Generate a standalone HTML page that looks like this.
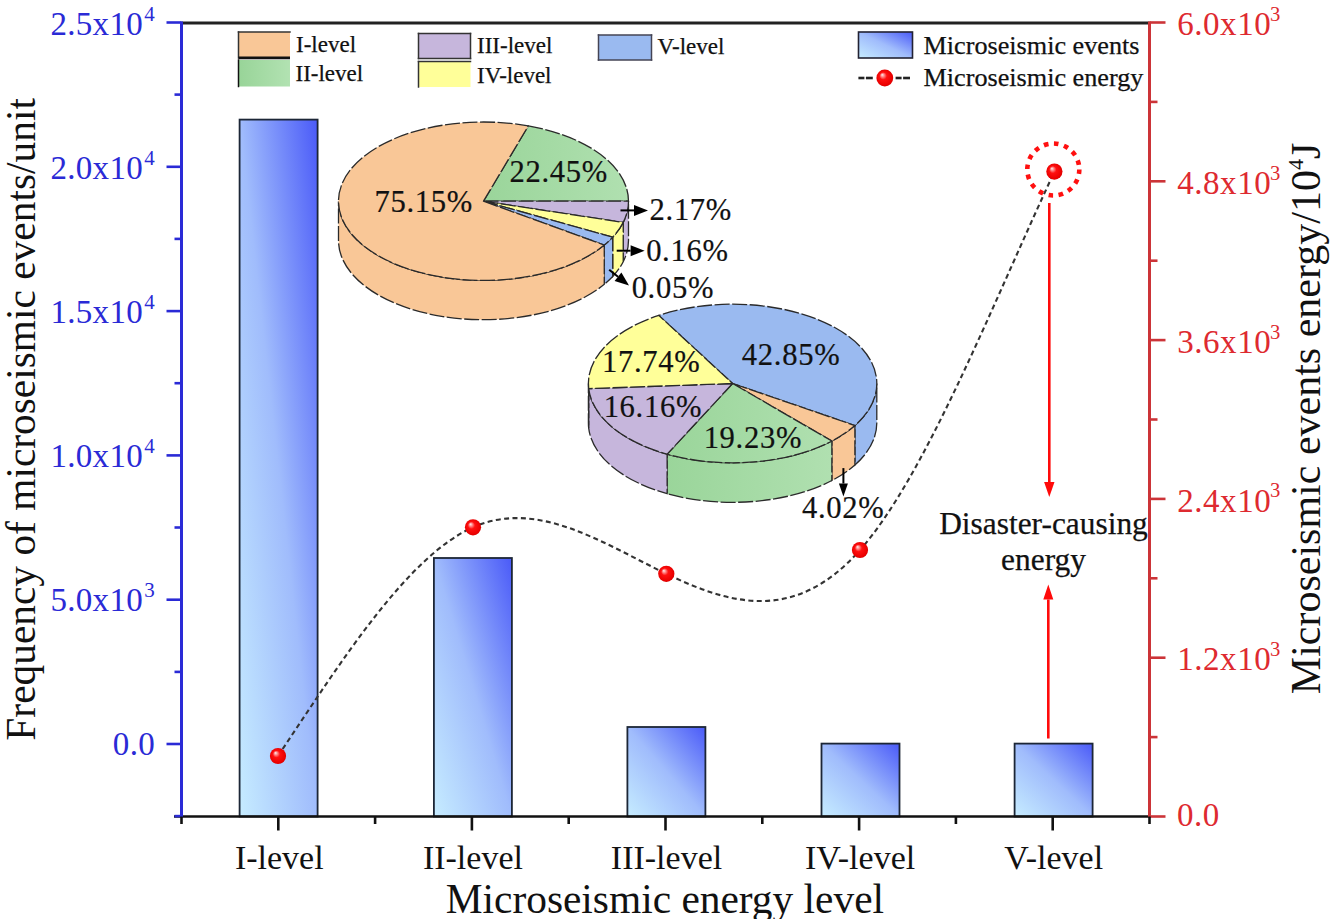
<!DOCTYPE html>
<html><head><meta charset="utf-8"><style>
html,body{margin:0;padding:0;background:#fff;}
svg{display:block;}
text{font-family:"Liberation Serif",serif;}
</style></head><body>
<svg width="1334" height="919" viewBox="0 0 1334 919">
<defs>
<linearGradient id="bar" x1="0" y1="1" x2="1" y2="0">
<stop offset="0" stop-color="#c6ecff"/><stop offset="0.5" stop-color="#a0bcfc"/><stop offset="1" stop-color="#4a5af8"/>
</linearGradient>
<radialGradient id="ball" cx="0.5" cy="0.5" r="0.55" fx="0.34" fy="0.3">
<stop offset="0" stop-color="#fff0f0"/><stop offset="0.18" stop-color="#ff8a8a"/><stop offset="0.4" stop-color="#ff1010"/><stop offset="0.85" stop-color="#ea0000"/><stop offset="1" stop-color="#c80000"/>
</radialGradient>
<linearGradient id="pgreen" x1="0" y1="0" x2="1" y2="0">
<stop offset="0" stop-color="#9ad59a"/><stop offset="1" stop-color="#b0e0b0"/>
</linearGradient>
<linearGradient id="lgreen" x1="0" y1="0" x2="1" y2="0">
<stop offset="0" stop-color="#98d498"/><stop offset="1" stop-color="#b2e2b2"/>
</linearGradient>
</defs>
<rect width="1334" height="919" fill="#fff"/>

<rect x="239.6" y="119.6" width="78" height="696.9" fill="url(#bar)" stroke="#1c2636" stroke-width="1.8"/>
<rect x="433.9" y="558.0" width="78" height="258.5" fill="url(#bar)" stroke="#1c2636" stroke-width="1.8"/>
<rect x="627.4" y="727.0" width="78" height="89.5" fill="url(#bar)" stroke="#1c2636" stroke-width="1.8"/>
<rect x="821.5" y="743.6" width="78" height="72.9" fill="url(#bar)" stroke="#1c2636" stroke-width="1.8"/>
<rect x="1014.6" y="743.6" width="78" height="72.9" fill="url(#bar)" stroke="#1c2636" stroke-width="1.8"/>
<path d="M628.50,201.20 A145,79.2 0 0 1 623.23,222.37 L623.23,261.67 A145,79.2 0 0 0 628.50,240.50 Z" fill="#c6b6dc" stroke="#2a2a2a" stroke-width="1.3" stroke-dasharray="15 2.5"/>
<path d="M623.23,222.37 A145,79.2 0 0 1 612.70,237.16 L612.70,276.46 A145,79.2 0 0 0 623.23,261.67 Z" fill="#ffff99" stroke="#2a2a2a" stroke-width="1.3" stroke-dasharray="15 2.5"/>
<path d="M612.70,237.16 A145,79.2 0 0 1 604.27,245.03 L604.27,284.33 A145,79.2 0 0 0 612.70,276.46 Z" fill="#9abaf0" stroke="#2a2a2a" stroke-width="1.3" stroke-dasharray="15 2.5"/>
<path d="M604.27,245.03 A145,79.2 0 0 1 338.50,201.20 L338.50,240.50 A145,79.2 0 0 0 604.27,284.33 Z" fill="#f9c797" stroke="#2a2a2a" stroke-width="1.3" stroke-dasharray="15 2.5"/>
<path d="M483.5,201.2 L528.31,125.88 A145,79.2 0 0 1 628.50,201.20 Z" fill="url(#pgreen)" stroke="#2a2a2a" stroke-width="1.3" stroke-linejoin="round" stroke-dasharray="15 2.5"/>
<path d="M483.5,201.2 L628.50,201.20 A145,79.2 0 0 1 623.23,222.37 Z" fill="#c6b6dc" stroke="#2a2a2a" stroke-width="1.3" stroke-linejoin="round" stroke-dasharray="15 2.5"/>
<path d="M483.5,201.2 L623.23,222.37 A145,79.2 0 0 1 612.70,237.16 Z" fill="#ffff99" stroke="#2a2a2a" stroke-width="1.3" stroke-linejoin="round" stroke-dasharray="15 2.5"/>
<path d="M483.5,201.2 L612.70,237.16 A145,79.2 0 0 1 604.27,245.03 Z" fill="#9abaf0" stroke="#2a2a2a" stroke-width="1.3" stroke-linejoin="round" stroke-dasharray="15 2.5"/>
<path d="M483.5,201.2 L604.27,245.03 A145,79.2 0 1 1 528.31,125.88 Z" fill="#f9c797" stroke="#2a2a2a" stroke-width="1.3" stroke-linejoin="round" stroke-dasharray="15 2.5"/>
<path d="M876.80,383.50 A144.2,79.3 0 0 1 854.89,425.52 L854.89,465.02 A144.2,79.3 0 0 0 876.80,423.00 Z" fill="#9abaf0" stroke="#2a2a2a" stroke-width="1.3" stroke-dasharray="15 2.5"/>
<path d="M854.89,425.52 A144.2,79.3 0 0 1 831.86,441.02 L831.86,480.52 A144.2,79.3 0 0 0 854.89,465.02 Z" fill="#f9c797" stroke="#2a2a2a" stroke-width="1.3" stroke-dasharray="15 2.5"/>
<path d="M831.86,441.02 A144.2,79.3 0 0 1 667.13,454.16 L667.13,493.66 A144.2,79.3 0 0 0 831.86,480.52 Z" fill="url(#pgreen)" stroke="#2a2a2a" stroke-width="1.3" stroke-dasharray="15 2.5"/>
<path d="M667.13,454.16 A144.2,79.3 0 0 1 588.70,388.62 L588.70,428.12 A144.2,79.3 0 0 0 667.13,493.66 Z" fill="#c6b6dc" stroke="#2a2a2a" stroke-width="1.3" stroke-dasharray="15 2.5"/>
<path d="M588.70,388.62 A144.2,79.3 0 0 1 588.40,383.50 L588.40,423.00 A144.2,79.3 0 0 0 588.70,428.12 Z" fill="#ffff99" stroke="#2a2a2a" stroke-width="1.3" stroke-dasharray="15 2.5"/>
<path d="M732.6,383.5 L658.76,315.38 A144.2,79.3 0 0 1 854.89,425.52 Z" fill="#9abaf0" stroke="#2a2a2a" stroke-width="1.3" stroke-linejoin="round" stroke-dasharray="15 2.5"/>
<path d="M732.6,383.5 L854.89,425.52 A144.2,79.3 0 0 1 831.86,441.02 Z" fill="#f9c797" stroke="#2a2a2a" stroke-width="1.3" stroke-linejoin="round" stroke-dasharray="15 2.5"/>
<path d="M732.6,383.5 L831.86,441.02 A144.2,79.3 0 0 1 667.13,454.16 Z" fill="url(#pgreen)" stroke="#2a2a2a" stroke-width="1.3" stroke-linejoin="round" stroke-dasharray="15 2.5"/>
<path d="M732.6,383.5 L667.13,454.16 A144.2,79.3 0 0 1 588.70,388.62 Z" fill="#c6b6dc" stroke="#2a2a2a" stroke-width="1.3" stroke-linejoin="round" stroke-dasharray="15 2.5"/>
<path d="M732.6,383.5 L588.70,388.62 A144.2,79.3 0 0 1 658.76,315.38 Z" fill="#ffff99" stroke="#2a2a2a" stroke-width="1.3" stroke-linejoin="round" stroke-dasharray="15 2.5"/>
<text x="423.8" y="211.8" font-size="30.6" fill="#111" text-anchor="middle" letter-spacing="0.7" stroke="#111" stroke-width="0.2">75.15%</text>
<text x="558.8" y="181.9" font-size="30.6" fill="#111" text-anchor="middle" letter-spacing="0.7" stroke="#111" stroke-width="0.2">22.45%</text>
<text x="690.8" y="220.3" font-size="30.6" fill="#111" text-anchor="middle" letter-spacing="0.7" stroke="#111" stroke-width="0.2">2.17%</text>
<text x="687.4" y="260.6" font-size="30.6" fill="#111" text-anchor="middle" letter-spacing="0.7" stroke="#111" stroke-width="0.2">0.16%</text>
<text x="672.9" y="298.1" font-size="30.6" fill="#111" text-anchor="middle" letter-spacing="0.7" stroke="#111" stroke-width="0.2">0.05%</text>
<text x="791.1" y="365.2" font-size="30.6" fill="#111" text-anchor="middle" letter-spacing="0.7" stroke="#111" stroke-width="0.2">42.85%</text>
<text x="651.2" y="372.2" font-size="30.6" fill="#111" text-anchor="middle" letter-spacing="0.7" stroke="#111" stroke-width="0.2">17.74%</text>
<text x="652.9" y="416.6" font-size="30.6" fill="#111" text-anchor="middle" letter-spacing="0.7" stroke="#111" stroke-width="0.2">16.16%</text>
<text x="752.9" y="448" font-size="30.6" fill="#111" text-anchor="middle" letter-spacing="0.7" stroke="#111" stroke-width="0.2">19.23%</text>
<text x="843.2" y="518.1" font-size="30.6" fill="#111" text-anchor="middle" letter-spacing="0.7" stroke="#111" stroke-width="0.2">4.02%</text>
<line x1="620.5" y1="210.4" x2="634.0" y2="210.4" stroke="#000" stroke-width="2"/>
<path d="M648,210.4 L634.0,215.9 L634.0,204.9 Z" fill="#000"/>
<line x1="616.7" y1="250.7" x2="630.6" y2="250.7" stroke="#000" stroke-width="2"/>
<path d="M644.6,250.7 L630.6,256.2 L630.6,245.2 Z" fill="#000"/>
<line x1="609.2" y1="269.8" x2="618.0" y2="276.7" stroke="#000" stroke-width="2"/>
<path d="M629,285.4 L614.6,281.1 L621.4,272.4 Z" fill="#000"/>
<line x1="843.4" y1="468.1" x2="843.4" y2="483.5" stroke="#000" stroke-width="2"/>
<path d="M843.4,496.5 L838.9,483.5 L847.9,483.5 Z" fill="#000"/>
<path d="M278.0,756.0 C343.0,658.5 408.0,556.1 473.0,527.3 C537.4,498.8 601.9,542.7 666.3,573.8 C730.9,604.9 795.4,623.2 860.0,550.0 C924.8,476.5 989.6,310.9 1054.4,171.6" fill="none" stroke="#333" stroke-width="2.1" stroke-dasharray="5 3.4"/>
<circle cx="278.0" cy="756.0" r="8.1" fill="url(#ball)"/>
<circle cx="473.0" cy="527.3" r="8.1" fill="url(#ball)"/>
<circle cx="666.3" cy="573.8" r="8.1" fill="url(#ball)"/>
<circle cx="860.0" cy="550.0" r="8.1" fill="url(#ball)"/>
<circle cx="1054.4" cy="171.6" r="8.1" fill="url(#ball)"/>
<circle cx="1053.3" cy="169.5" r="26" fill="none" stroke="#ff1010" stroke-width="4.6" stroke-dasharray="4.6 5.6"/>
<line x1="1049.3" y1="203" x2="1049.3" y2="482.0" stroke="#ff0a0a" stroke-width="2.6"/>
<path d="M1049.3,497 L1044.1,482.0 L1054.5,482.0 Z" fill="#ff0a0a"/>
<line x1="1048.3" y1="738.5" x2="1048.3" y2="599.5" stroke="#ff0a0a" stroke-width="2.6"/>
<path d="M1048.3,584.5 L1053.3,599.5 L1043.3,599.5 Z" fill="#ff0a0a"/>
<text x="1043.5" y="533.8" font-size="31.4" fill="#111" text-anchor="middle" stroke="#111" stroke-width="0.25">Disaster-causing</text>
<text x="1043.5" y="570.1" font-size="31.4" fill="#111" text-anchor="middle" stroke="#111" stroke-width="0.25">energy</text>
<line x1="181.5" y1="23" x2="1149.5" y2="23" stroke="#222" stroke-width="2.8"/>
<line x1="174" y1="816.5" x2="1151.0" y2="816.5" stroke="#111" stroke-width="2.6"/>
<line x1="181.5" y1="21.6" x2="181.5" y2="817.5" stroke="#2a2ad6" stroke-width="3"/>
<line x1="1149.5" y1="21.6" x2="1149.5" y2="817.5" stroke="#cc3438" stroke-width="3"/>
<line x1="174.5" y1="816.1" x2="181.5" y2="816.1" stroke="#2a2ad6" stroke-width="2.6"/>
<line x1="166.5" y1="744.0" x2="181.5" y2="744.0" stroke="#2a2ad6" stroke-width="2.6"/>
<line x1="174.5" y1="671.9" x2="181.5" y2="671.9" stroke="#2a2ad6" stroke-width="2.6"/>
<line x1="166.5" y1="599.7" x2="181.5" y2="599.7" stroke="#2a2ad6" stroke-width="2.6"/>
<line x1="174.5" y1="527.5" x2="181.5" y2="527.5" stroke="#2a2ad6" stroke-width="2.6"/>
<line x1="166.5" y1="455.4" x2="181.5" y2="455.4" stroke="#2a2ad6" stroke-width="2.6"/>
<line x1="174.5" y1="383.2" x2="181.5" y2="383.2" stroke="#2a2ad6" stroke-width="2.6"/>
<line x1="166.5" y1="311.1" x2="181.5" y2="311.1" stroke="#2a2ad6" stroke-width="2.6"/>
<line x1="174.5" y1="238.9" x2="181.5" y2="238.9" stroke="#2a2ad6" stroke-width="2.6"/>
<line x1="166.5" y1="166.8" x2="181.5" y2="166.8" stroke="#2a2ad6" stroke-width="2.6"/>
<line x1="174.5" y1="94.6" x2="181.5" y2="94.6" stroke="#2a2ad6" stroke-width="2.6"/>
<line x1="166.5" y1="22.5" x2="181.5" y2="22.5" stroke="#2a2ad6" stroke-width="2.6"/>
<line x1="1149.5" y1="816.5" x2="1165.5" y2="816.5" stroke="#cc3438" stroke-width="2.6"/>
<line x1="1149.5" y1="737.1" x2="1157.5" y2="737.1" stroke="#cc3438" stroke-width="2.6"/>
<line x1="1149.5" y1="657.7" x2="1165.5" y2="657.7" stroke="#cc3438" stroke-width="2.6"/>
<line x1="1149.5" y1="578.3" x2="1157.5" y2="578.3" stroke="#cc3438" stroke-width="2.6"/>
<line x1="1149.5" y1="498.9" x2="1165.5" y2="498.9" stroke="#cc3438" stroke-width="2.6"/>
<line x1="1149.5" y1="419.5" x2="1157.5" y2="419.5" stroke="#cc3438" stroke-width="2.6"/>
<line x1="1149.5" y1="340.1" x2="1165.5" y2="340.1" stroke="#cc3438" stroke-width="2.6"/>
<line x1="1149.5" y1="260.7" x2="1157.5" y2="260.7" stroke="#cc3438" stroke-width="2.6"/>
<line x1="1149.5" y1="181.3" x2="1165.5" y2="181.3" stroke="#cc3438" stroke-width="2.6"/>
<line x1="1149.5" y1="101.9" x2="1157.5" y2="101.9" stroke="#cc3438" stroke-width="2.6"/>
<line x1="1149.5" y1="22.5" x2="1165.5" y2="22.5" stroke="#cc3438" stroke-width="2.6"/>
<line x1="181.5" y1="816.5" x2="181.5" y2="824.0" stroke="#111" stroke-width="2.6"/>
<line x1="375.1" y1="816.5" x2="375.1" y2="824.0" stroke="#111" stroke-width="2.6"/>
<line x1="568.7" y1="816.5" x2="568.7" y2="824.0" stroke="#111" stroke-width="2.6"/>
<line x1="762.3" y1="816.5" x2="762.3" y2="824.0" stroke="#111" stroke-width="2.6"/>
<line x1="955.9" y1="816.5" x2="955.9" y2="824.0" stroke="#111" stroke-width="2.6"/>
<line x1="1149.5" y1="816.5" x2="1149.5" y2="824.0" stroke="#111" stroke-width="2.6"/>
<line x1="278.3" y1="816.5" x2="278.3" y2="830.5" stroke="#111" stroke-width="2.6"/>
<line x1="471.9" y1="816.5" x2="471.9" y2="830.5" stroke="#111" stroke-width="2.6"/>
<line x1="665.5" y1="816.5" x2="665.5" y2="830.5" stroke="#111" stroke-width="2.6"/>
<line x1="859.1" y1="816.5" x2="859.1" y2="830.5" stroke="#111" stroke-width="2.6"/>
<line x1="1052.7" y1="816.5" x2="1052.7" y2="830.5" stroke="#111" stroke-width="2.6"/>
<text x="143" y="34.9" font-size="33" fill="#2a2ad6" text-anchor="end" letter-spacing="0.3">2.5x10</text>
<text x="144.3" y="21.4" font-size="21" fill="#2a2ad6">4</text>
<text x="143" y="178.9" font-size="33" fill="#2a2ad6" text-anchor="end" letter-spacing="0.3">2.0x10</text>
<text x="144.3" y="165.4" font-size="21" fill="#2a2ad6">4</text>
<text x="143" y="322.9" font-size="33" fill="#2a2ad6" text-anchor="end" letter-spacing="0.3">1.5x10</text>
<text x="144.3" y="309.4" font-size="21" fill="#2a2ad6">4</text>
<text x="143" y="466.9" font-size="33" fill="#2a2ad6" text-anchor="end" letter-spacing="0.3">1.0x10</text>
<text x="144.3" y="453.4" font-size="21" fill="#2a2ad6">4</text>
<text x="143" y="610.9" font-size="33" fill="#2a2ad6" text-anchor="end" letter-spacing="0.3">5.0x10</text>
<text x="144.3" y="597.4" font-size="21" fill="#2a2ad6">3</text>
<text x="155" y="754.6" font-size="33" fill="#2a2ad6" text-anchor="end" letter-spacing="0.3">0.0</text>
<text x="1177.2" y="35.1" font-size="33" fill="#de2a30" letter-spacing="0.55">6.0x10</text>
<text x="1270" y="20.9" font-size="20.6" fill="#de2a30">3</text>
<text x="1177.2" y="193.9" font-size="33" fill="#de2a30" letter-spacing="0.55">4.8x10</text>
<text x="1270" y="179.7" font-size="20.6" fill="#de2a30">3</text>
<text x="1177.2" y="352.7" font-size="33" fill="#de2a30" letter-spacing="0.55">3.6x10</text>
<text x="1270" y="338.5" font-size="20.6" fill="#de2a30">3</text>
<text x="1177.2" y="511.5" font-size="33" fill="#de2a30" letter-spacing="0.55">2.4x10</text>
<text x="1270" y="497.3" font-size="20.6" fill="#de2a30">3</text>
<text x="1177.2" y="670.3" font-size="33" fill="#de2a30" letter-spacing="0.55">1.2x10</text>
<text x="1270" y="656.1" font-size="20.6" fill="#de2a30">3</text>
<text x="1177.0" y="825.9" font-size="33" fill="#de2a30" letter-spacing="0.55">0.0</text>
<text x="279.3" y="869.1" font-size="34" fill="#111" text-anchor="middle">I-level</text>
<text x="472.9" y="869.1" font-size="34" fill="#111" text-anchor="middle">II-level</text>
<text x="666.5" y="869.1" font-size="34" fill="#111" text-anchor="middle">III-level</text>
<text x="860.1" y="869.1" font-size="34" fill="#111" text-anchor="middle">IV-level</text>
<text x="1053.7" y="869.1" font-size="34" fill="#111" text-anchor="middle">V-level</text>
<text x="664.9" y="912.7" font-size="41.4" fill="#111" text-anchor="middle">Microseismic energy level</text>
<text transform="translate(35.4,419.4) rotate(-90)" font-size="41.4" fill="#111" text-anchor="middle">Frequency of microseismic events/unit</text>
<text transform="translate(1319.7,694.2) rotate(-90)" font-size="42" fill="#111">Microseismic events energy/10<tspan font-size="22" dy="-17">4</tspan><tspan dy="17">J</tspan></text>
<rect x="238.5" y="32" width="51.5" height="26" fill="#f9c797"/>
<line x1="238.5" y1="32" x2="290.0" y2="32" stroke="#333" stroke-width="1.5" stroke-linecap="square"/>
<line x1="238.5" y1="32" x2="238.5" y2="58" stroke="#333" stroke-width="1.5" stroke-linecap="square"/>
<line x1="238.5" y1="57.8" x2="290" y2="57.8" stroke="#111" stroke-width="2.4"/>
<line x1="238.5" y1="60" x2="290" y2="60" stroke="#777" stroke-width="1.2"/>
<rect x="238.5" y="60" width="51.5" height="26.5" fill="url(#lgreen)"/>
<line x1="238.5" y1="60" x2="238.5" y2="86.5" stroke="#111" stroke-width="1.5" stroke-linecap="square"/>
<rect x="418.5" y="33.5" width="52" height="25" fill="#c6b6dc"/>
<line x1="418.5" y1="33.5" x2="470.5" y2="33.5" stroke="#333" stroke-width="1.5" stroke-linecap="square"/>
<line x1="418.5" y1="33.5" x2="418.5" y2="58.5" stroke="#333" stroke-width="1.5" stroke-linecap="square"/>
<line x1="418.5" y1="58.5" x2="470.5" y2="58.5" stroke="#333" stroke-width="1.5" stroke-linecap="square"/>
<line x1="470.5" y1="33.5" x2="470.5" y2="58.5" stroke="#333" stroke-width="1.5" stroke-linecap="square"/>
<rect x="418.5" y="61.5" width="52" height="25.5" fill="#ffff99"/>
<line x1="418.5" y1="61.5" x2="470.5" y2="61.5" stroke="#333" stroke-width="1.5" stroke-linecap="square"/>
<line x1="418.5" y1="61.5" x2="418.5" y2="87.0" stroke="#333" stroke-width="1.5" stroke-linecap="square"/>
<rect x="598.5" y="35" width="53" height="25" fill="#9abaf0"/>
<line x1="598.5" y1="35" x2="651.5" y2="35" stroke="#445" stroke-width="1.5" stroke-linecap="square"/>
<line x1="598.5" y1="35" x2="598.5" y2="60" stroke="#445" stroke-width="1.5" stroke-linecap="square"/>
<line x1="598.5" y1="60" x2="651.5" y2="60" stroke="#445" stroke-width="1.5" stroke-linecap="square"/>
<line x1="651.5" y1="35" x2="651.5" y2="60" stroke="#445" stroke-width="1.5" stroke-linecap="square"/>
<text x="296" y="52" font-size="23" fill="#111" text-anchor="start" stroke="#111" stroke-width="0.25">I-level</text>
<text x="295.5" y="81.2" font-size="23" fill="#111" text-anchor="start" stroke="#111" stroke-width="0.25">II-level</text>
<text x="477" y="52.7" font-size="23" fill="#111" text-anchor="start" stroke="#111" stroke-width="0.25">III-level</text>
<text x="477" y="82.7" font-size="23" fill="#111" text-anchor="start" stroke="#111" stroke-width="0.25">IV-level</text>
<text x="657.5" y="54.2" font-size="23" fill="#111" text-anchor="start" stroke="#111" stroke-width="0.25">V-level</text>
<rect x="858.5" y="32" width="54" height="26" fill="url(#bar)" stroke="#223" stroke-width="1.6"/>
<line x1="858.4" y1="78" x2="864.4" y2="78" stroke="#222" stroke-width="2.6"/>
<line x1="865.9" y1="78" x2="872.8" y2="78" stroke="#222" stroke-width="2.6"/>
<line x1="895.6" y1="78" x2="901.6" y2="78" stroke="#222" stroke-width="2.6"/>
<line x1="903.1" y1="78" x2="910" y2="78" stroke="#222" stroke-width="2.6"/>
<circle cx="884.8" cy="78" r="8.4" fill="url(#ball)"/>
<text x="923.5" y="54.2" font-size="26.2" fill="#111" text-anchor="start" stroke="#111" stroke-width="0.25">Microseismic events</text>
<text x="923.5" y="86.2" font-size="26.2" fill="#111" text-anchor="start" stroke="#111" stroke-width="0.25">Microseismic energy</text>
</svg></body></html>
